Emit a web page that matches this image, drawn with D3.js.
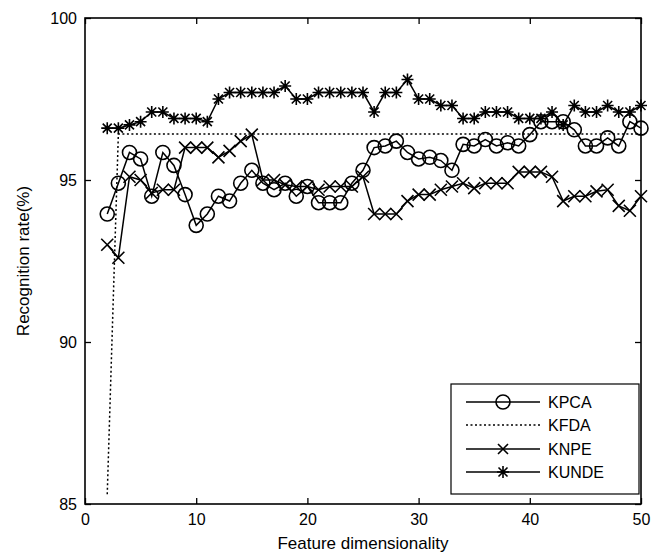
<!DOCTYPE html>
<html>
<head>
<meta charset="utf-8">
<script src="https://cdn.jsdelivr.net/npm/d3@7"></script>
<style>
  html, body { margin: 0; padding: 0; background: #fff; }
  svg { display: block; font-family: "Liberation Sans", Arial, sans-serif; }
</style>
</head>
<body>
<svg id="chart" width="663" height="558"></svg>
<script>
// ---- data ----
const dims = d3.range(2, 51);
const kpca = [93.95, 94.9, 95.85, 95.65, 94.5, 95.85, 95.45, 94.55, 93.6, 93.95,
  94.5, 94.35, 94.9, 95.3, 94.9, 94.7, 94.9, 94.5, 94.8, 94.3,
  94.3, 94.3, 94.9, 95.3, 96.0, 96.05, 96.2, 95.85, 95.65, 95.7,
  95.6, 95.3, 96.1, 96.05, 96.25, 96.05, 96.15, 96.05, 96.4, 96.8,
  96.8, 96.8, 96.55, 96.05, 96.05, 96.3, 96.05, 96.8, 96.6];
const kfdaX = [2, 3, 50];
const kfda = [85.3, 96.42, 96.42];
const knpe = [93.0, 92.6, 95.1, 95.0, 94.6, 94.7, 94.7, 96.0, 96.0, 96.0,
  95.7, 95.9, 96.2, 96.4, 95.0, 95.0, 94.85, 94.8, 94.8, 94.7,
  94.8, 94.8, 94.8, 95.1, 93.95, 93.95, 93.95, 94.35, 94.55, 94.55,
  94.7, 94.8, 94.9, 94.75, 94.9, 94.9, 94.9, 95.25, 95.25, 95.25,
  95.1, 94.35, 94.5, 94.5, 94.65, 94.7, 94.2, 94.05, 94.5];
const kunde = [96.6, 96.6, 96.7, 96.8, 97.1, 97.1, 96.9, 96.9, 96.9, 96.8,
  97.5, 97.7, 97.7, 97.7, 97.7, 97.7, 97.9, 97.5, 97.5, 97.7,
  97.7, 97.7, 97.7, 97.7, 97.1, 97.7, 97.7, 98.1, 97.5, 97.5,
  97.3, 97.3, 96.9, 96.9, 97.1, 97.1, 97.1, 96.9, 96.9, 96.9,
  97.1, 96.7, 97.3, 97.1, 97.1, 97.3, 97.1, 97.1, 97.3];
const xTicks = [0, 10, 20, 30, 40, 50];
const yTicks = [85, 90, 95, 100];
const seriesNames = ["KPCA", "KFDA", "KNPE", "KUNDE"];
const xTitle = "Feature dimensionality";
const yTitle = "Recognition rate(%)";

// ---- layout ----
const L = 85, R = 641, T = 18, B = 504;
const svg = d3.select("#chart");
const x = d3.scaleLinear().domain([0, 50]).range([L, R]);
const y = d3.scaleLinear().domain([85, 100]).range([B, T]);

// axes (MATLAB style: inward ticks on all four sides)
const tickLen = 6;
const g = svg.append("g");
g.append("g").attr("transform", `translate(0,${B})`)
  .call(d3.axisBottom(x).tickValues(xTicks).tickSizeInner(-tickLen).tickSizeOuter(0).tickPadding(10))
  .call(s => s.select(".domain").remove());
g.append("g").attr("transform", `translate(0,${T})`)
  .call(d3.axisTop(x).tickValues(xTicks).tickSizeInner(-tickLen).tickSizeOuter(0).tickFormat(""))
  .call(s => s.select(".domain").remove());
g.append("g").attr("transform", `translate(${L},0)`)
  .call(d3.axisLeft(y).tickValues(yTicks).tickSizeInner(-tickLen).tickSizeOuter(0).tickPadding(8))
  .call(s => s.select(".domain").remove());
g.append("g").attr("transform", `translate(${R},0)`)
  .call(d3.axisRight(y).tickValues(yTicks).tickSizeInner(-tickLen).tickSizeOuter(0).tickFormat(""))
  .call(s => s.select(".domain").remove());
g.selectAll(".tick line").attr("stroke", "#000").attr("stroke-width", 1.3);
g.selectAll(".tick text").attr("font-size", 16).attr("fill", "#000")
  .attr("font-family", "Liberation Sans, Arial, sans-serif");

svg.append("rect").attr("x", L).attr("y", T).attr("width", R - L).attr("height", B - T)
  .attr("fill", "none").attr("stroke", "#000").attr("stroke-width", 1.6);

// titles
svg.append("text").attr("x", (L + R) / 2).attr("y", 549).attr("text-anchor", "middle")
  .attr("font-size", 17).text(xTitle);
svg.append("text").attr("transform", `translate(29,${(T + B) / 2}) rotate(-90)`)
  .attr("text-anchor", "middle").attr("font-size", 17).text(yTitle);

// ---- marker helpers ----
function drawCircle(sel, cx, cy) {
  sel.append("circle").attr("cx", cx).attr("cy", cy).attr("r", 7)
    .attr("fill", "none").attr("stroke", "#000").attr("stroke-width", 1.6);
}
function drawCross(sel, cx, cy, s = 6) {
  sel.append("path").attr("d", `M${cx - s},${cy - s}L${cx + s},${cy + s}M${cx - s},${cy + s}L${cx + s},${cy - s}`)
    .attr("stroke", "#000").attr("stroke-width", 1.6).attr("fill", "none");
}
function drawStar(sel, cx, cy, s = 6) {
  const d = s * 0.75;
  sel.append("path").attr("d",
    `M${cx - s},${cy}L${cx + s},${cy}M${cx},${cy - s}L${cx},${cy + s}` +
    `M${cx - d},${cy - d}L${cx + d},${cy + d}M${cx - d},${cy + d}L${cx + d},${cy - d}`)
    .attr("stroke", "#000").attr("stroke-width", 1.6).attr("fill", "none");
}

const line = d3.line().x(d => x(d[0])).y(d => y(d[1]));
const plot = svg.append("g");

function series(vals, marker) {
  const pts = dims.map((d, i) => [d, vals[i]]);
  plot.append("path").attr("d", line(pts)).attr("fill", "none")
    .attr("stroke", "#000").attr("stroke-width", 1.5);
  const mg = plot.append("g");
  pts.forEach(p => marker(mg, x(p[0]), y(p[1])));
}

// KFDA dotted
plot.append("path").attr("d", line(kfdaX.map((d, i) => [d, kfda[i]])))
  .attr("fill", "none").attr("stroke", "#000").attr("stroke-width", 1.5)
  .attr("stroke-dasharray", "2,2.5");
series(kpca, drawCircle);
series(knpe, drawCross);
series(kunde, drawStar);

// ---- legend ----
const lg = svg.append("g");
lg.append("rect").attr("x", 451).attr("y", 384).attr("width", 188).attr("height", 110)
  .attr("fill", "#fff").attr("stroke", "#000").attr("stroke-width", 1.2);
const rows = [402, 425, 449, 472];
const markers = [drawCircle, null, (s, a, b) => drawCross(s, a, b, 5), (s, a, b) => drawStar(s, a, b, 6)];
seriesNames.forEach((name, i) => {
  const ly = rows[i];
  const ln = lg.append("line").attr("x1", 466).attr("x2", 540).attr("y1", ly).attr("y2", ly)
    .attr("stroke", "#000").attr("stroke-width", 1.5);
  if (i === 1) ln.attr("stroke-dasharray", "2,2.5");
  if (markers[i]) markers[i](lg, 503, ly);
  lg.append("text").attr("x", 548).attr("y", ly + 6).attr("font-size", 16).text(name);
});
</script>
</body>
</html>
